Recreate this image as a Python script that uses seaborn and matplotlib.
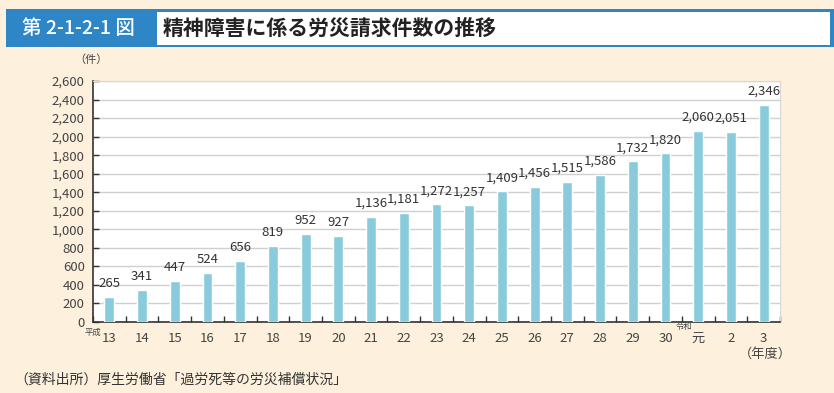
import matplotlib.pyplot as plt
import matplotlib.patches as mpatches
import matplotlib.ticker as mticker
import seaborn as sns
import pandas as pd
import numpy as np

# ── データ ────────────────────────────────────────────────────────────────────
years = ["13", "14", "15", "16", "17", "18", "19", "20", "21", "22", "23",
         "24", "25", "26", "27", "28", "29", "30", "元", "2", "3"]
claims = [265, 341, 447, 524, 656, 819, 952, 927, 1136, 1181, 1272,
          1257, 1409, 1456, 1515, 1586, 1732, 1820, 2060, 2051, 2346]
yticks = list(range(0, 2601, 200))

BG = "#FDF0DC"
BAR = "#89CBDC"
BLUE = "#2F86C6"

sns.set_theme(style="white")
plt.rcParams["font.family"] = ["Noto Sans CJK JP", "DejaVu Sans"]

df = pd.DataFrame({"year": years, "claims": claims})

fig = plt.figure(figsize=(8.34, 3.93), dpi=100, facecolor=BG)

# タイトル帯
fig.patches.append(mpatches.Rectangle((6 / 834, 1 - 47 / 393), 828 / 834, 38 / 393,
                                      transform=fig.transFigure, facecolor=BLUE,
                                      edgecolor="none"))
fig.patches.append(mpatches.Rectangle((157 / 834, 1 - 45 / 393), 673 / 834, 33 / 393,
                                      transform=fig.transFigure, facecolor="white",
                                      edgecolor="none"))
fig.text(22 / 834, 1 - 28 / 393, "第 2-1-2-1 図", color="white", fontsize=14,
         va="center", ha="left", fontweight="medium")
fig.text(163 / 834, 1 - 28 / 393, "精神障害に係る労災請求件数の推移", color="#222222",
         fontsize=15, va="center", ha="left", fontweight="bold")

ax = fig.add_axes([93 / 834, 1 - 322 / 393, 687 / 834, 241 / 393])
ax.set_facecolor("white")
sns.barplot(data=df, x="year", y="claims", color=BAR, width=0.3,
            saturation=1, ax=ax, zorder=3)

ax.set_ylim(0, 2600)
ax.set_xlim(-0.5, len(years) - 0.5)
ax.set_yticks(yticks)
ax.yaxis.set_major_formatter(mticker.FuncFormatter(lambda v, _: f"{int(v):,}"))
ax.grid(axis="y", color="#D0D0D0", linewidth=1, zorder=0)
ax.set_xlabel("")
ax.set_ylabel("")

for i, v in enumerate(claims):
    ax.annotate(f"{v:,}", (i, v), xytext=(0, 5), textcoords="offset points",
                ha="center", va="bottom", fontsize=9.5, color="#333333")

# x 軸: カテゴリ境界に内向き目盛
ax.set_xticks(np.arange(len(years)))
ax.set_xticklabels(years, fontsize=9.5, color="#444444")
ax.set_xticks(np.arange(len(years) + 1) - 0.5, minor=True)
ax.tick_params(axis="x", which="major", length=0, pad=7)
ax.tick_params(axis="x", which="minor", direction="in", length=4, color="#333333",
               width=1, bottom=True)
ax.tick_params(axis="y", direction="in", length=4, color="#333333", width=1,
               labelsize=9.5, labelcolor="#444444", left=True, pad=6)

for s in ["left", "bottom"]:
    ax.spines[s].set_color("#333333")
    ax.spines[s].set_linewidth(1.2)
for s in ["top", "right"]:
    ax.spines[s].set_color("#D8D8D8")
    ax.spines[s].set_linewidth(0.8)

fig.text(91 / 834, 1 - 60 / 393, "（件）", fontsize=8, color="#444444",
         ha="center", va="center")
fig.text(101 / 834, 1 - 332 / 393, "平成", fontsize=6, color="#444444",
         ha="right", va="center")
fig.text(684 / 834, 1 - 327 / 393, "令和", fontsize=6, color="#444444",
         ha="center", va="center")
fig.text(765 / 834, 1 - 354 / 393, "（年度）", fontsize=9.5, color="#444444",
         ha="center", va="center")
fig.text(14 / 834, 1 - 380 / 393, "（資料出所）厚生労働省「過労死等の労災補償状況」",
         fontsize=10, color="#333333", ha="left", va="center")

fig.savefig("out.png", dpi=100, facecolor=BG)
